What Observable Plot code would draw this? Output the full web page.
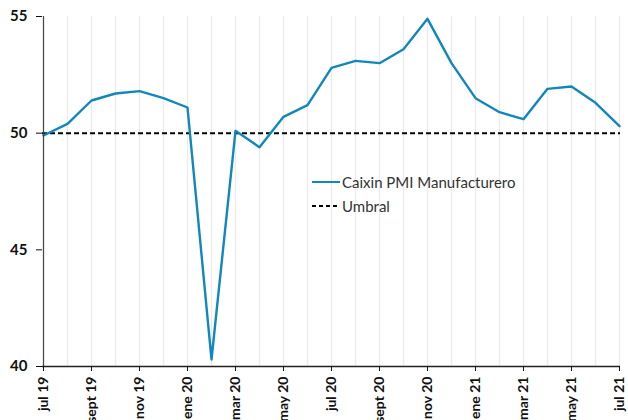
<!DOCTYPE html>
<html>
<head>
<meta charset="utf-8">
<script src="https://cdn.jsdelivr.net/npm/d3@7"></script>
<script src="https://cdn.jsdelivr.net/npm/@observablehq/plot@0.6"></script>
<style>
  html, body { margin: 0; padding: 0; background: #fff; }
  #wrap { position: relative; width: 628px; height: 420px; overflow: hidden; }
  #legend { position: absolute; left: 312px; top: 170px; font-family: Lato, "Open Sans", sans-serif; font-size: 15px; color: #333; }
  #legend .row { display: flex; align-items: center; height: 24px; }
  #legend svg { margin-right: 2px; }
</style>
</head>
<body>
<div id="wrap">
  <div id="chart"></div>
  <div id="legend"></div>
</div>
<script>
const months = ["jul 19","ago 19","sept 19","oct 19","nov 19","dic 19","ene 20","feb 20","mar 20","abr 20","may 20","jun 20","jul 20","ago 20","sept 20","oct 20","nov 20","dic 20","ene 21","feb 21","mar 21","abr 21","may 21","jun 21","jul 21"];
const pmi = [49.9,50.4,51.4,51.7,51.8,51.5,51.1,40.3,50.1,49.4,50.7,51.2,52.8,53.1,53.0,53.6,54.9,53.0,51.5,50.9,50.6,51.9,52.0,51.3,50.3];
const umbral = 50;
const tickLabels = ["jul 19","sept 19","nov 19","ene 20","mar 20","may 20","jul 20","sept 20","nov 20","ene 21","mar 21","may 21","jul 21"];
const yTicks = [40,45,50,55];
const seriesNames = ["Caixin PMI Manufacturero","Umbral"];
const lineColor = "#1187bb";

const data = months.map((m, i) => ({month: m, value: pmi[i]}));

const chart = Plot.plot({
  width: 628,
  height: 420,
  marginLeft: 42,
  marginRight: 8,
  marginTop: 16,
  marginBottom: 54,
  style: {fontFamily: "Lato, 'Open Sans', sans-serif", background: "#fff"},
  x: {type: "point", domain: months, padding: 0},
  y: {domain: [40, 55]},
  marks: [
    Plot.ruleX(months, {stroke: "#ebebeb", strokeWidth: 1.3}),
    Plot.ruleY([umbral], {stroke: "#000", strokeWidth: 2, strokeDasharray: "5,3"}),
    Plot.line(data, {x: "month", y: "value", stroke: lineColor, strokeWidth: 2.4}),
    Plot.ruleX([months[0]], {stroke: "#444", strokeWidth: 1.2}),
    Plot.ruleY([40], {stroke: "#222", strokeWidth: 1.4}),
    Plot.axisY({ticks: yTicks, tickSize: 6, tickPadding: 9, fontSize: 15, fontWeight: "bold", color: "#111", label: null}),
    Plot.axisX({ticks: tickLabels, tickSize: 5, tickPadding: 5, tickRotate: -90, fontSize: 14, fontWeight: "bold", color: "#111", label: null})
  ]
});
document.getElementById("chart").appendChild(chart);

const legend = document.getElementById("legend");
seriesNames.forEach((name, i) => {
  const row = document.createElement("div");
  row.className = "row";
  const dash = i === 1 ? 'stroke-dasharray="4,3"' : '';
  const col = i === 1 ? "#000" : lineColor;
  row.innerHTML = `<svg width="28" height="6"><line x1="0" y1="3" x2="28" y2="3" stroke="${col}" stroke-width="2" ${dash}/></svg><span>${name}</span>`;
  legend.appendChild(row);
});
</script>
</body>
</html>
